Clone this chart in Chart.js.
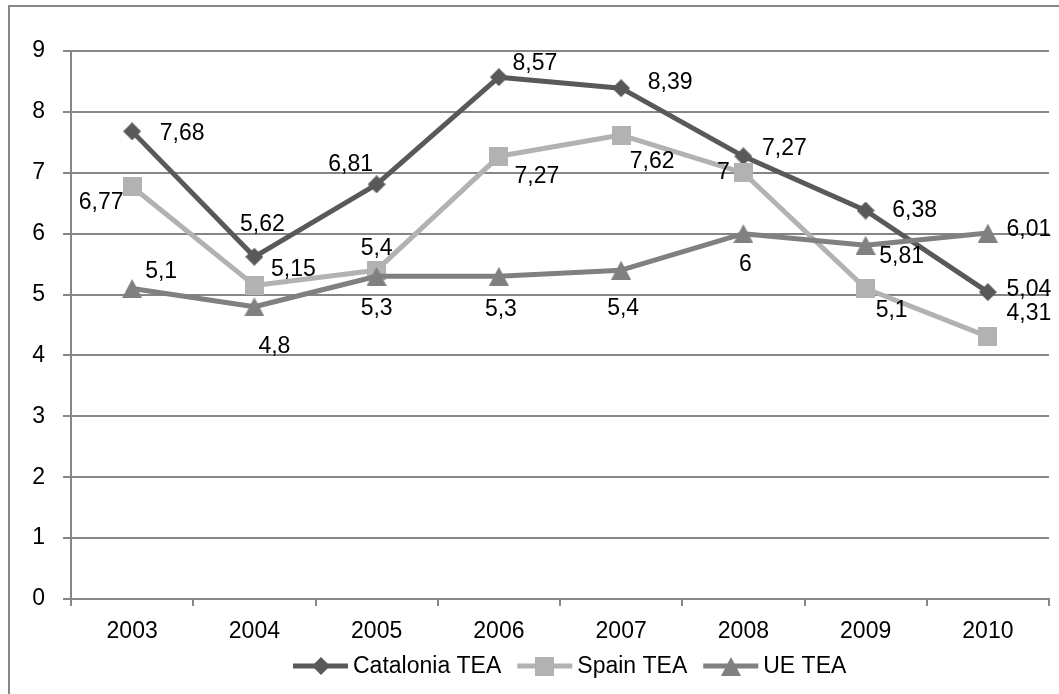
<!DOCTYPE html>
<html>
<head>
<meta charset="utf-8">
<script src="https://cdn.jsdelivr.net/npm/chart.js@4.4.1/dist/chart.umd.min.js"></script>
<style>
  html, body { margin: 0; padding: 0; background: #ffffff; }
  #wrap { width: 1059px; height: 694px; position: relative; overflow: hidden; }
</style>
</head>
<body>
<div id="wrap"><canvas id="tea" width="1059" height="694"></canvas></div>
<script>
// Total early-stage entrepreneurial activity (TEA), %
const years = ['2003', '2004', '2005', '2006', '2007', '2008', '2009', '2010'];
const cataloniaTEA = [7.68, 5.62, 6.81, 8.57, 8.39, 7.27, 6.38, 5.04];
const spainTEA = [6.77, 5.15, 5.4, 7.27, 7.62, 7, 5.1, 4.31];
const ueTEA = [5.1, 4.8, 5.3, 5.3, 5.4, 6, 5.81, 6.01];
const yTickValues = [0, 1, 2, 3, 4, 5, 6, 7, 8, 9];

// Where each value label sits relative to its point (pixels)
const cataloniaLabelPos = [[50, 2], [8, -32], [-26, -20], [36, -14], [49, -5], [41, -8], [49, 0], [41, -2]];
const spainLabelPos = [[-31, 16], [39, -16], [0, -22], [38, 20], [31, 27], [-20, 0], [26, 22], [41, -23]];
const ueLabelPos = [[29, -17], [20, 40], [0, 32], [2, 33], [2, 38], [2, 31], [36, 11], [41, -3]];

const FONT = "'Liberation Sans', Arial, sans-serif";
const FONT_SIZE = 23;
const GRID = '#868686';

function makeMarker(kind, color) {
  const c = document.createElement('canvas');
  const g = c.getContext('2d');
  g.fillStyle = color;
  g.beginPath();
  if (kind === 'diamond') {
    c.width = 18; c.height = 18;
    g.fillStyle = color;
    g.beginPath();
    g.moveTo(9, 0); g.lineTo(18, 9); g.lineTo(9, 18); g.lineTo(0, 9);
  } else if (kind === 'square') {
    c.width = 19; c.height = 19;
    g.fillStyle = color;
    g.beginPath();
    g.rect(0, 0, 19, 19);
  } else {
    c.width = 20; c.height = 19;
    g.fillStyle = color;
    g.beginPath();
    g.moveTo(10, 0); g.lineTo(20, 19); g.lineTo(0, 19);
  }
  g.closePath();
  g.fill();
  return c;
}

const series = [
  { label: 'Catalonia TEA', data: cataloniaTEA, color: '#595959', marker: makeMarker('diamond', '#595959'), pos: cataloniaLabelPos, order: 3 },
  { label: 'Spain TEA', data: spainTEA, color: '#b2b2b2', marker: makeMarker('square', '#b2b2b2'), pos: spainLabelPos, order: 2 },
  { label: 'UE TEA', data: ueTEA, color: '#808080', marker: makeMarker('triangle', '#808080'), pos: ueLabelPos, order: 1 }
];

const fmt = v => String(v).replace('.', ',');

// White page with the outer frame
const framePlugin = {
  id: 'frame',
  beforeDraw(chart) {
    const ctx = chart.ctx;
    ctx.save();
    ctx.fillStyle = '#ffffff';
    ctx.fillRect(0, 0, chart.width, chart.height);
    ctx.strokeStyle = GRID;
    ctx.lineWidth = 2;
    ctx.strokeRect(9, 6, chart.width + 40, chart.height + 40);
    ctx.restore();
  }
};

// Value labels next to each point
const valueLabelPlugin = {
  id: 'valueLabels',
  afterDatasetsDraw(chart) {
    const ctx = chart.ctx;
    ctx.save();
    ctx.font = FONT_SIZE + 'px ' + FONT;
    ctx.fillStyle = '#000000';
    ctx.textAlign = 'center';
    ctx.textBaseline = 'middle';
    chart.data.datasets.forEach((ds, i) => {
      const meta = chart.getDatasetMeta(i);
      meta.data.forEach((pt, j) => {
        const [dx, dy] = ds.labelPos[j];
        ctx.fillText(fmt(ds.data[j]), pt.x + dx, pt.y + dy);
      });
    });
    ctx.restore();
  }
};

// Legend: line sample with marker, then the series name
const lineLegendPlugin = {
  id: 'lineLegend',
  afterDraw(chart) {
    const ctx = chart.ctx;
    const y = 666;
    let x = 293;
    ctx.save();
    ctx.font = FONT_SIZE + 'px ' + FONT;
    ctx.textBaseline = 'middle';
    ctx.textAlign = 'left';
    chart.data.datasets.forEach(ds => {
      ctx.strokeStyle = ds.borderColor;
      ctx.lineWidth = 5;
      ctx.beginPath();
      ctx.moveTo(x, y);
      ctx.lineTo(x + 55, y);
      ctx.stroke();
      const m = ds.pointStyle;
      ctx.drawImage(m, Math.round(x + 27.5 - m.width / 2), Math.round(y - m.height / 2));
      ctx.fillStyle = '#000000';
      ctx.fillText(ds.label, x + 60, y + 1);
      x += 60 + ctx.measureText(ds.label).width + 16;
    });
    ctx.restore();
  }
};

new Chart(document.getElementById('tea'), {
  type: 'line',
  data: {
    labels: years,
    datasets: series.map(s => ({
      label: s.label,
      data: s.data,
      labelPos: s.pos,
      order: s.order,
      borderColor: s.color,
      backgroundColor: s.color,
      borderWidth: 5,
      borderJoinStyle: 'round',
      tension: 0,
      pointStyle: s.marker,
      pointRadius: 10,
      pointHoverRadius: 10,
      pointBorderWidth: 0,
      fill: false
    }))
  },
  options: {
    responsive: false,
    devicePixelRatio: 1,
    animation: false,
    events: [],
    layout: { padding: { top: 51, right: 2, left: 0, bottom: 0 } },
    plugins: {
      legend: { display: false },
      tooltip: { enabled: false }
    },
    scales: {
      x: {
        offset: true,
        grid: { offset: true, drawOnChartArea: false, drawTicks: true, tickLength: 7, color: GRID, lineWidth: 2 },
        border: { display: true, color: GRID, width: 2 },
        ticks: { color: '#000000', font: { family: FONT, size: FONT_SIZE }, padding: 12, maxRotation: 0 },
        afterFit(scale) { scale.height = 95; }
      },
      y: {
        min: 0,
        max: 9,
        afterBuildTicks(scale) { scale.ticks = yTickValues.map(v => ({ value: v })); },
        grid: { color: GRID, lineWidth: 2, tickLength: 8, drawTicks: true },
        border: { display: true, color: GRID, width: 2 },
        ticks: { color: '#000000', font: { family: FONT, size: FONT_SIZE }, padding: 18 },
        afterFit(scale) { scale.width = 71; }
      }
    }
  },
  plugins: [framePlugin, valueLabelPlugin, lineLegendPlugin]
});
</script>
</body>
</html>
